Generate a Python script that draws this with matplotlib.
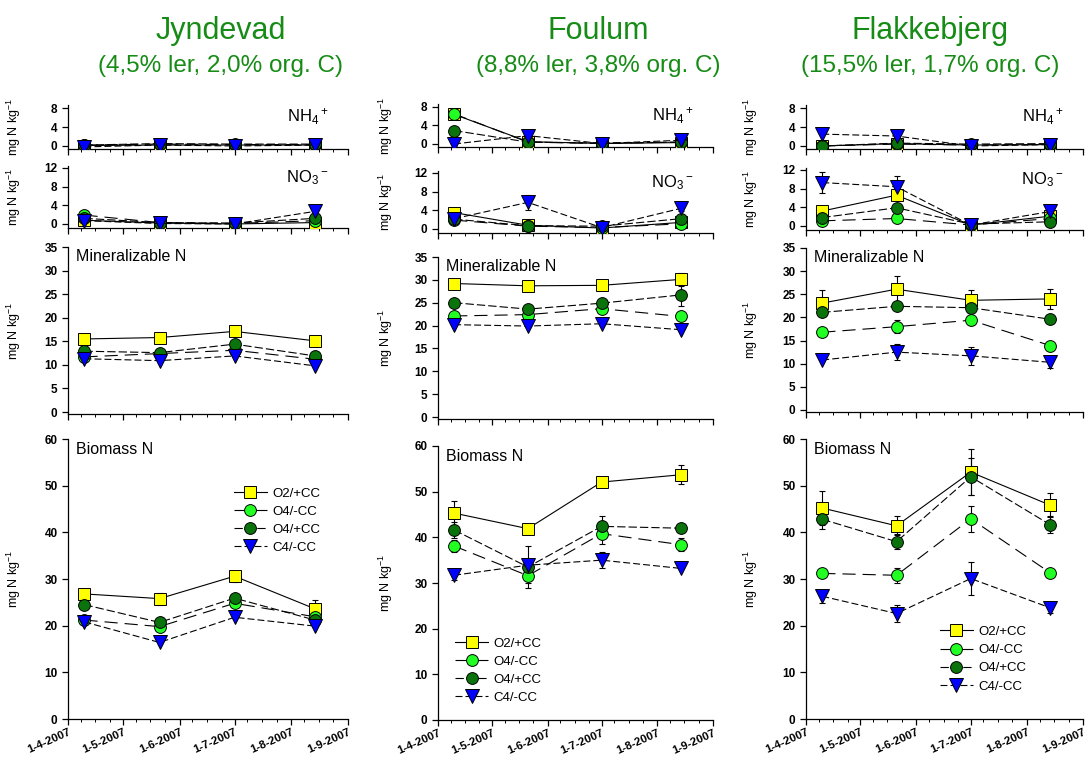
import matplotlib

matplotlib.use("Agg")
import matplotlib.pyplot as plt
import matplotlib.dates as mdates
import pandas as pd
from matplotlib.ticker import FuncFormatter

plt.rcParams['font.family'] = ['Liberation Sans', 'DejaVu Sans']
plt.rcParams['mathtext.fontset'] = 'custom'
plt.rcParams['mathtext.rm'] = 'Liberation Sans'
plt.rcParams['mathtext.it'] = 'Liberation Sans:italic'
plt.rcParams['mathtext.bf'] = 'Liberation Sans:bold'
plt.rcParams['lines.scale_dashes'] = False

# --- data ---
sample_dates = pd.to_datetime(['2007-04-10', '2007-05-21', '2007-07-01', '2007-08-14'])
series_names = ['O2/+CC', 'O4/-CC', 'O4/+CC', 'C4/-CC']
sites = ['Jyndevad', 'Foulum', 'Flakkebjerg']
site_soil = ['(4,5% ler, 2,0% org. C)', '(8,8% ler, 3,8% org. C)', '(15,5% ler, 1,7% org. C)']

# rows = series in the order of series_names, columns = sample dates
jyndevad_nh4 = [[0.1, 0.2, 0.2, 0.2], [0.2, 0.4, 0.3, 0.3], [0.2, 0.5, 0.4, 0.4], [-0.2, 0.2, 0.0, 0.2]]
jyndevad_no3 = [[0.8, 0.2, 0.0, 0.3], [1.9, 0.3, 0.1, 0.7], [1.2, 0.3, 0.2, 1.2], [0.7, 0.1, 0.0, 2.7]]
jyndevad_min = [[15.5, 15.8, 17.1, 15.1], [11.7, 12.4, 13.1, 11.2], [12.9, 12.6, 14.4, 11.9], [11.3, 10.9, 11.9, 9.8]]
jyndevad_bio = [[26.8, 25.8, 30.6, 23.6], [21.2, 19.8, 24.8, 21.9], [24.5, 20.7, 25.9, 21.2], [20.8, 16.4, 21.8, 19.9]]
jyndevad_nh4_err = [[0, 0, 0, 0], [0, 0, 0, 0], [0, 0, 0, 0], [0, 0, 0, 0]]
jyndevad_no3_err = [[0, 0, 0, 0], [0.3, 0, 0, 0], [0, 0, 0, 0], [0, 0, 0, 0.3]]
jyndevad_min_err = [[0, 0, 0.4, 0], [0, 0, 0, 0], [0, 0, 0, 0], [0, 0, 0, 0]]
jyndevad_bio_err = [[0.6, 1.3, 1.2, 1.8], [0, 0, 0, 0], [0, 0, 0, 0], [0, 0, 0, 0]]

foulum_nh4 = [[6.4, 0.5, 0.1, 0.3], [6.5, 0.4, 0.1, 0.4], [2.9, 0.4, 0.2, 0.4], [0.0, 1.8, 0.1, 0.8]]
foulum_no3 = [[3.5, 0.8, 0.2, 1.4], [1.9, 0.6, 0.3, 1.1], [2.1, 0.7, 0.6, 2.2], [2.2, 5.7, 0.3, 4.4]]
foulum_min = [[29.2, 28.7, 28.8, 30.1], [22.1, 22.4, 23.7, 22.0], [25.0, 23.6, 24.9, 26.7], [20.2, 19.9, 20.4, 19.1]]
foulum_bio = [[45.3, 41.9, 52.1, 53.7], [38.1, 31.6, 40.8, 38.4], [41.6, 33.5, 42.4, 42.0], [31.7, 33.9, 35.0, 33.2]]
foulum_nh4_err = [[1.1, 0, 0, 0], [0, 0, 0, 0], [0.6, 0, 0, 0], [0, 0, 0, 0]]
foulum_no3_err = [[0, 0, 0, 0], [0, 0, 0, 0], [0, 0, 0, 0], [0, 1.6, 0, 0.6]]
foulum_min_err = [[1.0, 0, 0, 1.5], [0, 0.8, 0, 0], [0, 0, 0, 2.5], [0, 0, 0, 0]]
foulum_bio_err = [[2.6, 1.0, 0, 2.1], [1.3, 1.6, 2.3, 1.4], [1.7, 4.5, 2.2, 0], [1.0, 0, 1.7, 0]]

flakkebjerg_nh4 = [[0.0, 0.5, 0.2, 0.3], [0.0, 0.4, 0.2, 0.3], [0.0, 0.6, 0.4, 0.5], [2.5, 2.1, 0.0, 0.3]]
flakkebjerg_no3 = [[3.2, 6.6, 0.2, 2.1], [1.1, 1.6, 0.2, 1.6], [1.8, 3.9, 0.4, 0.9], [9.3, 8.4, 0.2, 3.1]]
flakkebjerg_min = [[23.1, 26.1, 23.7, 24.0], [16.8, 18.0, 19.4, 13.9], [21.1, 22.4, 22.1, 19.6], [10.8, 12.5, 11.7, 10.3]]
flakkebjerg_bio = [[45.2, 41.4, 52.9, 45.8], [31.2, 30.8, 42.9, 31.3], [42.8, 38.0, 51.9, 41.6], [26.3, 22.6, 30.1, 23.8]]
flakkebjerg_nh4_err = [[0, 0, 0, 0], [0, 0, 0, 0], [0, 0, 0, 0], [1.2, 0, 0, 0]]
flakkebjerg_no3_err = [[0, 0.9, 0, 0], [0, 0.9, 0, 0], [0, 0, 0, 0], [2.3, 2.4, 0, 0]]
flakkebjerg_min_err = [[2.8, 2.8, 2.3, 2.2], [0, 1.4, 1.0, 0], [0, 0, 0, 0], [0, 1.8, 2.0, 1.2]]
flakkebjerg_bio_err = [[3.6, 2.0, 4.9, 2.6], [0, 1.6, 2.8, 0], [2.0, 1.6, 4.0, 1.8], [1.4, 1.8, 3.5, 1.1]]

site_values = [
    [jyndevad_nh4, jyndevad_no3, jyndevad_min, jyndevad_bio],
    [foulum_nh4, foulum_no3, foulum_min, foulum_bio],
    [flakkebjerg_nh4, flakkebjerg_no3, flakkebjerg_min, flakkebjerg_bio],
]
site_errors = [
    [jyndevad_nh4_err, jyndevad_no3_err, jyndevad_min_err, jyndevad_bio_err],
    [foulum_nh4_err, foulum_no3_err, foulum_min_err, foulum_bio_err],
    [flakkebjerg_nh4_err, flakkebjerg_no3_err, flakkebjerg_min_err, flakkebjerg_bio_err],
]

# --- styles ---
markers = ['s', 'o', 'o', 'v']
face_colors = ['#ffff00', '#22ff22', '#0b730b', '#0000ff']
marker_sizes = [8.5, 8.5, 8.5, 9.5]
line_styles = ['-', (0, (9.5, 5)), (0, (6, 2.2)), (0, (5, 2.2))]

row_ylims = [(-0.7, 8.6), (-0.8, 12.4), (-0.5, 35), (0, 60)]
row_yticks = [[0, 4, 8], [0, 4, 8, 12], list(range(0, 36, 5)), list(range(0, 61, 10))]
row_labels = ['NH$_4{}^+$', 'NO$_3{}^-$', 'Mineralizable N', 'Biomass N']

# axes placement in pixels of the 1086x760 canvas
W, H = 1086, 760
col_x = [(68, 348), (438, 713), (806, 1083)]
rows_px = [
    [(105.2, 149.3), (166.1, 227.7), (247, 414.4), (439, 719)],
    [(104.2, 147.2), (171.1, 232.7), (257, 419.3), (446, 720)],
    [(105.2, 149.3), (168.1, 229.7), (248, 412.3), (439, 719)],
]
ylabel_x = [23, 395, 760]
title_x = [221, 598, 930]
legend_anchor = [(0.55, 0.87), (0.02, 0.345), (0.44, 0.375)]

fig = plt.figure(figsize=(W / 100, H / 100), dpi=100)

x_start = pd.Timestamp('2007-04-01')
x_end = pd.Timestamp('2007-09-01')
date_fmt = FuncFormatter(lambda v, pos: (lambda d: f"{d.day}-{d.month}-{d.year}")(mdates.num2date(v)))

for c in range(3):
    left, right = col_x[c]
    fig.text(title_x[c] / W, 1 - 39 / H, sites[c], ha='center', va='baseline',
             fontsize=22, color='#168c16')
    fig.text(title_x[c] / W, 1 - 72 / H, site_soil[c], ha='center', va='baseline',
             fontsize=17.5, color='#168c16')
    for r in range(4):
        top, bottom = rows_px[c][r]
        ax = fig.add_axes([left / W, 1 - bottom / H, (right - left) / W, (bottom - top) / H])
        vals = site_values[c][r]
        errs = site_errors[c][r]
        for s in range(4):
            ax.errorbar(sample_dates, vals[s], yerr=errs[s], fmt='none', ecolor='black',
                        elinewidth=0.8, capsize=2.5, capthick=0.8, zorder=2)
        for s in range(4):
            ax.plot(sample_dates, vals[s], linestyle=line_styles[s], color='black', linewidth=0.8,
                    marker=markers[s], markersize=marker_sizes[s], markerfacecolor=face_colors[s],
                    markeredgecolor='black', markeredgewidth=0.7, label=series_names[s], zorder=3)

        ax.set_xlim(x_start, x_end)
        ax.set_ylim(*row_ylims[r])
        ax.set_yticks(row_yticks[r])
        ax.xaxis.set_major_locator(mdates.MonthLocator(bymonthday=1))
        ax.xaxis.set_minor_locator(mdates.DayLocator(bymonthday=[8, 16, 24]))
        for side in ['top', 'right']:
            ax.spines[side].set_visible(False)
        for side in ['left', 'bottom']:
            ax.spines[side].set_linewidth(0.9)
        ax.tick_params(axis='both', which='major', direction='out', length=4, width=0.9,
                       labelsize=8.5)
        ax.tick_params(axis='x', which='major', pad=2)
        ax.tick_params(axis='x', which='minor', direction='out', length=2, width=0.7)
        for lab in ax.get_yticklabels():
            lab.set_fontweight('bold')
        ax.set_ylabel('mg N kg$^{-1}$', fontsize=9)
        ax.yaxis.set_label_coords((ylabel_x[c] - left) / (right - left), 0.5)

        if r == 3:
            ax.xaxis.set_major_formatter(date_fmt)
            for lab in ax.get_xticklabels():
                lab.set_rotation(24)
                lab.set_ha('right')
                lab.set_va('top')
                lab.set_rotation_mode('anchor')
                lab.set_fontweight('bold')
                lab.set_fontsize(8.2)
            ax.legend(loc='upper left', bbox_to_anchor=legend_anchor[c], frameon=False,
                      fontsize=9.5, handlelength=2.5, labelspacing=0.45, handletextpad=0.4)
        else:
            ax.tick_params(axis='x', labelbottom=False)

        if r < 2:
            ax.text(0.93, 0.98 if r == 0 else 0.96, row_labels[r], transform=ax.transAxes,
                    ha='right', va='top', fontsize=12)
        else:
            ax.text(0.03, 0.99, row_labels[r], transform=ax.transAxes, ha='left', va='top',
                    fontsize=11.5)

fig.savefig('out.png', dpi=100)
